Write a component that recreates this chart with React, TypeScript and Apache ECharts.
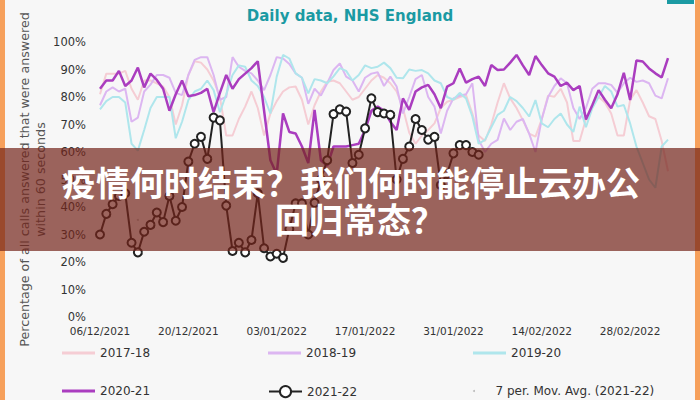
import React, { useEffect, useRef } from 'react';
import * as echarts from 'echarts';

const START = Date.UTC(2021, 11, 6);
const DAYS = 91;
const categories: string[] = [];
for (let i = 0; i < DAYS; i++) {
  const d = new Date(START + i * 86400000);
  const dd = String(d.getUTCDate()).padStart(2, '0');
  const mm = String(d.getUTCMonth() + 1).padStart(2, '0');
  categories.push(`${dd}/${mm}/${d.getUTCFullYear()}`);
}

const seriesNames = ['2017-18', '2018-19', '2019-20', '2020-21', '2021-22', '7 per. Mov. Avg. (2021-22)'];

const s1718 = [81, 88.5, 88.5, 88.5, 89.5, 83, 79, 86, 86, 85, 83.8, 80, 70, 77, 88, 93, 92.5, 90, 86, 80,
  66, 66, 72, 76.5, 82, 76, 66, 74, 78.5, 82, 83.5, 83.8, 79, 70, 77, 82, 85.5, 86, 85, 82,
  79, 80, 83, 86, 88, 87, 85, 82, 76, 67, 63, 66, 68, 70.4, 76, 78.3, 79, 80, 80.7, 74,
  66, 64, 70, 78, 85, 79.5, 76, 71.6, 66.7, 65.6, 72, 80.5, 80.1, 83, 78, 64, 64, 72, 77, 80.1,
  78, 74, 66, 66, 78.9, 82.5, 78, 73, 72, 64, 53];

const s1819 = [77, 82, 83.5, 82, 83, 71, 72.5, 82, 84.5, 88, 88, 87, 81.5, 80.7, 88, 93.5, 94.5, 94.5, 88, 79,
  80, 94.5, 91, 89.5, 88.6, 86, 82.5, 88, 94.5, 94, 92, 88.6, 87, 77.5, 83, 80.5, 85, 89.8, 92.2, 87.4,
  86, 82, 87, 88.5, 89, 84, 87.4, 83.8, 74, 80, 86.5, 88, 80, 76.5, 66.7, 75, 79.5, 80.5, 81, 85,
  64.4, 60, 63, 64.4, 72.2, 68, 71, 72, 66.7, 60, 72, 80, 84, 86.8, 85, 76, 72, 76, 83, 85,
  85, 84.4, 81.5, 85, 87, 85.5, 86, 85, 80.5, 79.5, 86.8];

const s1920 = [75.5, 78.5, 80, 80, 78, 63, 60.5, 68, 76, 80, 80, 80, 65, 71, 78.9, 82, 83, 86, 82.5, 74.5,
  81, 88, 91.5, 91, 86, 84, 80, 74, 87.4, 95.3, 94, 88.6, 87, 81.3, 86.5, 86, 85, 87.5, 90.5, 89.5,
  86, 88, 91.5, 90.5, 91, 92.5, 90.5, 87, 86.8, 90, 89.5, 89.8, 88.6, 86, 85, 80, 79, 81.5, 79.5, 72.9,
  63, 64.4, 69, 73.5, 75, 80, 78.5, 76, 72.9, 78.9, 70.4, 69, 72, 74, 70, 67.3, 76.5, 69, 75.9, 80,
  84, 82, 76.5, 77.1, 70.4, 62, 56, 50, 47, 62, 64.5];

const s2021 = [83, 86, 86, 89.5, 84, 86, 90.7, 83.5, 88.5, 86.2, 83, 75, 81, 86, 80.3, 80.7, 81.5, 83, 74.5, 81.5,
  88, 83, 86.5, 88.5, 90.5, 93, 75, 57, 52, 74, 67.3, 66.7, 62, 56, 75.3, 57, 55, 62, 62, 62,
  62.5, 63, 68, 75, 76.5, 75, 71, 68, 79.5, 75.3, 82, 83.5, 84.4, 81, 75.9, 83.8, 85, 90.4, 85.2, 86.5,
  87.4, 84, 91.6, 89.8, 90, 92.5, 95.3, 91.5, 88, 94.9, 91.6, 88.6, 87.4, 84, 85.2, 82.5, 84, 71.8, 77, 82.5,
  79, 75.9, 81, 88.8, 78.9, 93.3, 92.9, 90.4, 88.6, 87.1, 94.1];

const s2122 = [30, 37.5, 41, 44, 45, 27, 23.5, 31, 33.5, 38, 34.5, 44, 35, 40, 56.5, 63, 65.5, 57.5, 72.5, 71.5,
  40.5, 24, 27, 23.5, 28, 45, 25, 22, 23, 21.5, 32, 41.3, 41.3, 30, 41.5, 50, 57, 73.8, 75.5, 74.7,
  56, 59, 68.6, 79.5, 74.5, 74, 73.5, 50, 57.5, 62, 72, 68, 64.5, 65.5, 48, 52, 59.5, 62.5, 62.5, 60,
  59];

const movAvgIndex = [6];
const movAvgValue = [35.3];

const yTicks = [0, 100, 10];

export default function App() {
  const ref = useRef<HTMLDivElement>(null);
  useEffect(() => {
    if (!ref.current) return;
    const chart = echarts.init(ref.current, undefined, { renderer: 'svg' });
    const font = 'DejaVu Sans';
    const movAvg: (number | null)[] = categories.map(() => null);
    movAvgIndex.forEach((ix, k) => { movAvg[ix] = movAvgValue[k]; });

    const legendPos = [
      [62, 347], [268, 347], [473, 347],
      [62, 385], [268, 385], [473, 385],
    ];
    const legendIcon: (string | undefined)[] = ['rect', 'rect', 'rect', 'rect', undefined, 'circle'];
    const legendH = [3, 3, 3, 3, 14, 2];

    const faint = (name: string, data: number[], color: string) => ({
      name, type: 'line', data, showSymbol: false, symbol: 'none', z: 1,
      lineStyle: { color, width: 2 }, itemStyle: { color },
    });

    chart.setOption({
      animation: false,
      backgroundColor: '#f7f7f7',
      title: {
        text: 'Daily data, NHS England', left: 'center', top: 3,
        textStyle: { color: '#1b9aa3', fontSize: 15, fontWeight: 'bold', fontFamily: font },
      },
      grid: { left: 100, right: 32, top: 42, bottom: 83 },
      xAxis: {
        type: 'category', data: categories, boundaryGap: false,
        axisLine: { show: false }, axisTick: { show: false }, splitLine: { show: false },
        axisLabel: { interval: 13, color: '#333', fontSize: 10.5, margin: 8, fontFamily: font },
      },
      yAxis: {
        type: 'value', min: yTicks[0], max: yTicks[1], interval: yTicks[2],
        axisLine: { show: false }, axisTick: { show: false }, splitLine: { show: false },
        axisLabel: { formatter: '{value}%', color: '#333', fontSize: 11.5, margin: 14, fontFamily: font },
        name: 'Percentage of all calls answered that were answered\nwithin 60 seconds',
        nameLocation: 'middle', nameGap: 51, nameRotate: 90, nameMoveOverlap: false,
        nameTextStyle: { color: '#555', fontSize: 12.7, lineHeight: 16.5, fontFamily: font },
      },
      legend: seriesNames.map((n, i) => {
        const item: any = { name: n };
        if (legendIcon[i]) item.icon = legendIcon[i];
        return {
          data: [item], left: legendPos[i][0], top: legendPos[i][1], padding: 0,
          itemWidth: 33, itemHeight: legendH[i], itemGap: 0,
          textStyle: { color: '#333', fontSize: 12, fontFamily: font },
        };
      }),
      series: [
        faint(seriesNames[0], s1718, '#f5cdd4'),
        faint(seriesNames[1], s1819, '#dcb6f1'),
        faint(seriesNames[2], s1920, '#afe6ec'),
        {
          name: seriesNames[3], type: 'line', data: s2021, showSymbol: false, symbol: 'none', z: 3,
          lineStyle: { color: '#aa3dbf', width: 2.5 }, itemStyle: { color: '#aa3dbf' },
        },
        {
          name: seriesNames[4], type: 'line', data: s2122, symbol: 'circle', symbolSize: 8, z: 4,
          showAllSymbol: true,
          lineStyle: { color: '#222', width: 2 },
          itemStyle: { color: '#ffffff', borderColor: '#222', borderWidth: 2 },
        },
        {
          name: seriesNames[5], type: 'line', data: movAvg, symbol: 'circle', symbolSize: 2, z: 4,
          lineStyle: { color: '#bbb', width: 0, opacity: 0 },
          itemStyle: { color: '#bbb' },
        },
      ],
      graphic: [
        { type: 'rect', z: 50, shape: { x: 0, y: 0, width: 5, height: 400 }, style: { fill: '#f6a05c' } },
        { type: 'rect', z: 50, shape: { x: 695, y: 0, width: 5, height: 400 }, style: { fill: '#f6a05c' } },
        { type: 'rect', z: 50, shape: { x: 667, y: 0, width: 27, height: 4 }, style: { fill: '#1b9aa3' } },
        { type: 'rect', z: 60, shape: { x: 0, y: 148, width: 700, height: 103 }, style: { fill: 'rgba(116,36,26,0.7)' } },
        {
          type: 'text', z: 70, x: 62, y: 181,
          style: { text: '疫情何时结束？我们何时能停止云办公', fill: '#ffffff', font: 'bold 34px "Noto Sans CJK SC"', textAlign: 'left', textVerticalAlign: 'middle' },
        },
        {
          type: 'text', z: 70, x: 275, y: 218,
          style: { text: '回归常态？', fill: '#ffffff', font: 'bold 34px "Noto Sans CJK SC"', textAlign: 'left', textVerticalAlign: 'middle' },
        },
      ],
    });
    return () => chart.dispose();
  }, []);
  return <div ref={ref} style={{ position: 'fixed', left: 0, top: 0, width: 700, height: 400 }} />;
}
